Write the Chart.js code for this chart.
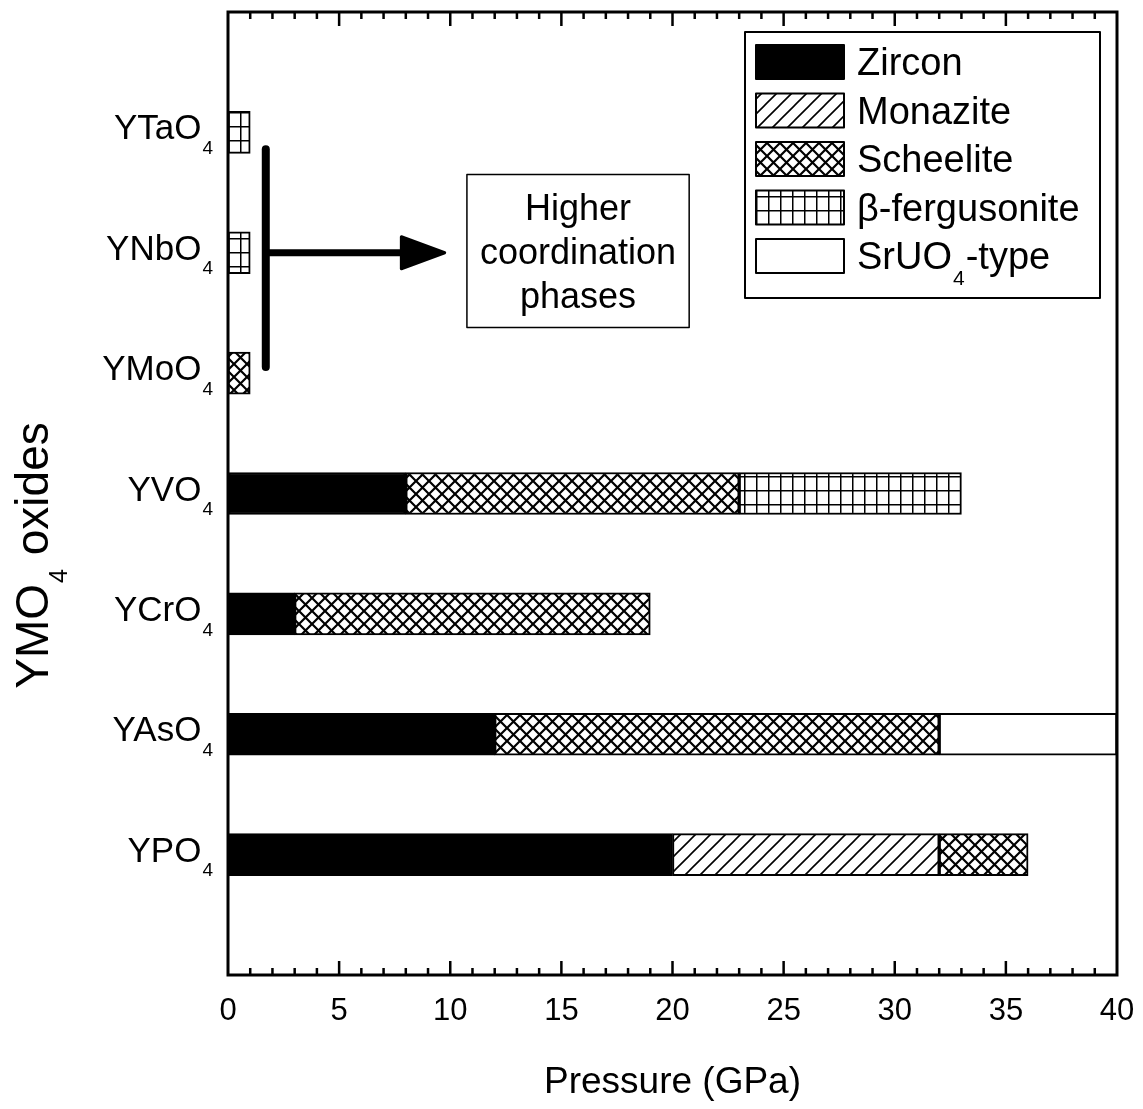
<!DOCTYPE html>
<html>
<head>
<meta charset="utf-8">
<style>
  html, body { margin: 0; padding: 0; background: #fff; }
  #wrap { width: 1143px; height: 1109px; }
</style>
<script src="https://cdn.jsdelivr.net/npm/chart.js@4.4.1/dist/chart.umd.min.js"></script>
</head>
<body>
<div id="wrap"><canvas id="chart" width="1143" height="1109"></canvas></div>
<script>
// categories bottom to top, each bar is [from, to] in GPa
const categories = ["YPO4", "YAsO4", "YCrO4", "YVO4", "YMoO4", "YNbO4", "YTaO4"];
const zircon      = [[0, 20], [0, 12], [0, 3], [0, 8], null, null, null];
const monazite    = [[20, 32], null, null, null, null, null, null];
const scheelite   = [[32, 36], [12, 32], [3, 19], [8, 23], [0, 1], null, null];
const fergusonite = [null, null, null, [23, 33], null, [0, 1], [0, 1]];
const sruo4       = [null, [32, 40], null, null, null, null, null];
const xTicks = [0, 5, 10, 15, 20, 25, 30, 35, 40];

// annotation, in data units
const bracketX = 1.7;
const bracketY = [5.05, 6.86];
const arrowY = 6;
const arrowTip = 9.75;
const arrowHead = 7.8;
const noteBox = { x: [10.75, 20.75], y: [5.38, 6.65] };
const noteLines = ["Higher", "coordination", "phases"];

const FONT = "'Liberation Sans', Arial, Helvetica, sans-serif";

function pattern(kind) {
  const c = document.createElement("canvas");
  const g = c.getContext("2d");
  if (kind === "diag") {
    c.width = 15; c.height = 15;
    g.fillStyle = "#fff"; g.fillRect(0, 0, 15, 15);
    g.strokeStyle = "#000"; g.lineWidth = 1.6;
    g.beginPath();
    g.moveTo(-2, 17); g.lineTo(17, -2);
    g.moveTo(-2, 2); g.lineTo(2, -2);
    g.moveTo(13, 17); g.lineTo(17, 13);
    g.stroke();
  } else if (kind === "cross") {
    c.width = 13; c.height = 13;
    g.fillStyle = "#fff"; g.fillRect(0, 0, 13, 13);
    g.strokeStyle = "#000"; g.lineWidth = 2.2;
    g.beginPath();
    g.moveTo(-1, 14); g.lineTo(14, -1);
    g.moveTo(-1, -1); g.lineTo(14, 14);
    g.stroke();
  } else {
    c.width = 12; c.height = 14;
    g.fillStyle = "#fff"; g.fillRect(0, 0, 12, 14);
    g.fillStyle = "#000";
    g.fillRect(0, 0, 1.5, 14);
    g.fillRect(0, 0, 12, 1.5);
  }
  return g.createPattern(c, "repeat");
}

function points(arr) {
  return arr.map((v, i) => (v ? { x: v, y: i + 1 } : null)).filter(Boolean);
}

// draws text where every digit is a subscript
function drawRich(ctx, text, x, y, size, align) {
  const sub = Math.round(size * 0.55);
  let w = 0;
  const segs = text.split(/(\d)/).filter((p) => p !== "").map((p) => {
    const isSub = /^\d$/.test(p);
    ctx.font = `${isSub ? sub : size}px ${FONT}`;
    const pw = ctx.measureText(p).width + (isSub ? 2 : 0);
    w += pw;
    return { p, isSub, pw };
  });
  let cx = align === "right" ? x - w : align === "center" ? x - w / 2 : x;
  ctx.textAlign = "left";
  ctx.textBaseline = "alphabetic";
  segs.forEach((s) => {
    ctx.font = `${s.isSub ? sub : size}px ${FONT}`;
    ctx.fillText(s.p, cx + (s.isSub ? 1 : 0), y + (s.isSub ? size * 0.42 : 0));
    cx += s.pw;
  });
}

const decorations = {
  id: "decorations",
  afterDatasetsDraw(chart) {
    const { ctx, chartArea: a, scales } = chart;
    const xs = scales.x, ys = scales.y;
    ctx.save();
    ctx.fillStyle = "#000";
    ctx.strokeStyle = "#000";

    // frame + inward ticks top and bottom
    ctx.lineWidth = 3;
    ctx.strokeRect(a.left, a.top, a.right - a.left, a.bottom - a.top);
    ctx.lineWidth = 2.5;
    ctx.beginPath();
    for (let v = 1; v < 40; v++) {
      const px = xs.getPixelForValue(v);
      const len = v % 5 === 0 ? 14 : 7;
      ctx.moveTo(px, a.bottom); ctx.lineTo(px, a.bottom - len);
      ctx.moveTo(px, a.top); ctx.lineTo(px, a.top + len);
    }
    ctx.stroke();

    // category labels
    categories.forEach((c, i) => {
      drawRich(ctx, c, a.left - 14, ys.getPixelForValue(i + 1) + 7, 35, "right");
    });

    // y title
    ctx.save();
    ctx.translate(48, (a.top + a.bottom) / 2 + 62);
    ctx.rotate(-Math.PI / 2);
    drawRich(ctx, "YMO4 oxides", 0, 0, 46, "center");
    ctx.restore();

    // bracket and arrow
    const bx = xs.getPixelForValue(bracketX);
    const ay = ys.getPixelForValue(arrowY);
    const headX = xs.getPixelForValue(arrowHead);
    const tipX = xs.getPixelForValue(arrowTip);
    ctx.lineCap = "round";
    ctx.lineWidth = 8;
    ctx.beginPath();
    ctx.moveTo(bx, ys.getPixelForValue(bracketY[0]));
    ctx.lineTo(bx, ys.getPixelForValue(bracketY[1]));
    ctx.stroke();
    ctx.lineCap = "butt";
    ctx.lineWidth = 7;
    ctx.beginPath();
    ctx.moveTo(bx, ay);
    ctx.lineTo(headX + 4, ay);
    ctx.stroke();
    ctx.lineJoin = "round";
    ctx.lineWidth = 3;
    ctx.beginPath();
    ctx.moveTo(headX, ay - 16);
    ctx.lineTo(tipX, ay);
    ctx.lineTo(headX, ay + 16);
    ctx.closePath();
    ctx.fill();
    ctx.stroke();

    // note box
    const nx0 = xs.getPixelForValue(noteBox.x[0]), nx1 = xs.getPixelForValue(noteBox.x[1]);
    const ny0 = ys.getPixelForValue(noteBox.y[1]), ny1 = ys.getPixelForValue(noteBox.y[0]);
    ctx.lineWidth = 1.5;
    ctx.strokeRect(nx0, ny0, nx1 - nx0, ny1 - ny0);
    ctx.font = `36px ${FONT}`;
    ctx.textAlign = "center";
    ctx.textBaseline = "alphabetic";
    const ncx = (nx0 + nx1) / 2, ncy = (ny0 + ny1) / 2;
    noteLines.forEach((t, i) => ctx.fillText(t, ncx, ncy + 13 + (i - 1) * 44));

    // legend
    const lx = a.right - 372, ly = a.top + 20;
    ctx.fillStyle = "#fff";
    ctx.fillRect(lx, ly, 355, 266);
    ctx.lineWidth = 2;
    ctx.strokeRect(lx, ly, 355, 266);
    chart.data.datasets.forEach((ds, i) => {
      const ry = ly + 13 + i * 48.5;
      ctx.fillStyle = ds.backgroundColor;
      ctx.fillRect(lx + 11, ry, 88, 34);
      ctx.lineWidth = 2;
      ctx.strokeRect(lx + 11, ry, 88, 34);
      ctx.fillStyle = "#000";
      drawRich(ctx, ds.label, lx + 112, ry + 30, 38, "left");
    });
    ctx.restore();
  }
};

const series = [
  { label: "Zircon", data: zircon, fill: "#000" },
  { label: "Monazite", data: monazite, fill: pattern("diag") },
  { label: "Scheelite", data: scheelite, fill: pattern("cross") },
  { label: "\u03b2-fergusonite", data: fergusonite, fill: pattern("grid") },
  { label: "SrUO4-type", data: sruo4, fill: "#fff" },
];

new Chart(document.getElementById("chart"), {
  type: "bar",
  data: {
    datasets: series.map((s) => ({
      label: s.label,
      data: points(s.data),
      backgroundColor: s.fill,
      borderColor: "#000",
      borderWidth: 2,
      borderSkipped: false,
      grouped: false,
      barThickness: 42,
    })),
  },
  options: {
    indexAxis: "y",
    responsive: false,
    animation: false,
    layout: { padding: { left: 228, right: 26, top: 12, bottom: 0 } },
    scales: {
      x: {
        type: "linear",
        min: 0,
        max: 40,
        afterBuildTicks: (s) => { s.ticks = xTicks.map((v) => ({ value: v })); },
        ticks: { color: "#000", font: { size: 31, family: FONT }, padding: 18, maxRotation: 0, autoSkip: false },
        grid: { display: false, drawTicks: false },
        border: { display: false },
        title: {
          display: true,
          text: "Pressure (GPa)",
          color: "#000",
          font: { size: 37, family: FONT },
          padding: { top: 0, bottom: 4 },
        },
        afterFit: (s) => {
          s.height = 134;
          s.paddingLeft = 0;
          s.paddingRight = 0;
        },
      },
      y: { type: "linear", min: 0, max: 8, offset: false, display: false },
    },
    plugins: { legend: { display: false }, tooltip: { enabled: false } },
  },
  plugins: [decorations],
});
</script>
</body>
</html>
